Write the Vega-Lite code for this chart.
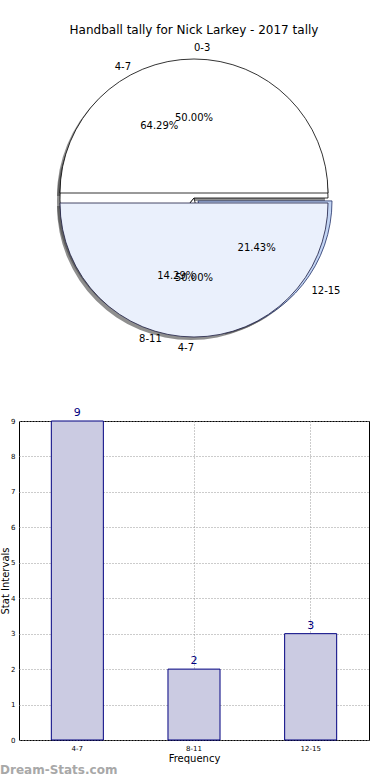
{
  "$schema": "https://vega.github.io/schema/vega-lite/v6.json",
  "padding": {"left": 0, "top": 24, "right": 0, "bottom": 0},
  "config": {"font": "DejaVu Sans", "view": {"stroke": null}},
  "title": {"text": "Dream-Stats.com", "orient": "bottom", "anchor": "start", "fontSize": 12, "fontWeight": "bold", "color": "#a8a8a8", "offset": 1},
  "datasets": {
    "pie": [
      {"pie": "A", "label": "0-3", "value": 50, "pct": "50.00%", "order": 1},
      {"pie": "A", "label": "4-7", "value": 50, "pct": "50.00%", "order": 2},
      {"pie": "B", "label": "4-7", "value": 64.29, "pct": "64.29%", "order": 1},
      {"pie": "B", "label": "8-11", "value": 14.29, "pct": "14.29%", "order": 2},
      {"pie": "B", "label": "12-15", "value": 21.43, "pct": "21.43%", "order": 3}
    ],
    "bars": [
      {"interval": "4-7", "count": 9},
      {"interval": "8-11", "count": 2},
      {"interval": "12-15", "count": 3}
    ]
  },
  "spacing": 53,
  "vconcat": [
    {
      "width": 350,
      "height": 304,
      "title": {"text": "Handball tally for Nick Larkey - 2017 tally", "fontSize": 12, "fontWeight": "normal", "color": "black", "offset": 6},
      "data": {"name": "pie"},
      "transform": [
        {"stack": "value", "groupby": ["pie"], "sort": [{"field": "order", "order": "ascending"}], "as": ["v0", "v1"]},
        {"calculate": "(datum.v0 + datum.v1) / 2", "as": "mid"}
      ],
      "encoding": {
        "theta": {"field": "v0", "type": "quantitative", "stack": null, "scale": {"domain": [0, 100], "range": [1.5708, -4.7124]}},
        "theta2": {"field": "v1"}
      },
      "layer": [
        {"transform": [{"filter": "datum.pie == 'B' && datum.label != '12-15'"}], "mark": {"type": "arc", "radius": 134, "fill": "#444444", "opacity": 0.6, "xOffset": -3, "yOffset": 3}},
        {"transform": [{"filter": "datum.pie == 'B' && datum.label == '12-15'"}], "mark": {"type": "arc", "radius": 134, "fill": "#444444", "opacity": 0.6, "xOffset": 1, "yOffset": 6}},
        {"transform": [{"filter": "datum.pie == 'A' && datum.label == '0-3'"}], "mark": {"type": "arc", "radius": 134, "fill": "#444444", "opacity": 0.6, "xOffset": -3, "yOffset": -2}},
        {"transform": [{"filter": "datum.pie == 'A' && datum.label == '4-7'"}], "mark": {"type": "arc", "radius": 134, "fill": "#444444", "opacity": 0.6, "xOffset": -3, "yOffset": 8}},
        {"transform": [{"filter": "datum.pie == 'B' && datum.label != '12-15'"}], "mark": {"type": "arc", "radius": 134, "fill": "white", "stroke": "black", "strokeWidth": 0.8}},
        {"transform": [{"filter": "datum.pie == 'B' && datum.label == '12-15'"}], "mark": {"type": "arc", "radius": 134, "fill": "#c3d5f4", "stroke": "#1f2f66", "strokeWidth": 0.8, "xOffset": 4, "yOffset": 3}},
        {"transform": [{"filter": "datum.pie == 'A' && datum.label == '0-3'"}], "mark": {"type": "arc", "radius": 134, "fill": "white", "stroke": "black", "strokeWidth": 0.8, "yOffset": -5}},
        {"transform": [{"filter": "datum.pie == 'A' && datum.label == '4-7'"}], "mark": {"type": "arc", "radius": 134, "fill": "#eaf0fc", "stroke": "#1a1a40", "strokeWidth": 0.8, "yOffset": 5}},
        {"transform": [{"filter": "datum.pie == 'A' && datum.label == '0-3'"}], "mark": {"type": "text", "radius": 145, "align": "left", "baseline": "middle", "fontSize": 10, "yOffset": -5}, "encoding": {"theta": {"field": "mid", "type": "quantitative", "stack": null}, "theta2": null, "text": {"field": "label"}}},
        {"transform": [{"filter": "datum.pie == 'A' && datum.label == '4-7'"}], "mark": {"type": "text", "radius": 145, "align": "right", "baseline": "middle", "fontSize": 10, "yOffset": 5}, "encoding": {"theta": {"field": "mid", "type": "quantitative", "stack": null}, "theta2": null, "text": {"field": "label"}}},
        {"transform": [{"filter": "datum.pie == 'B' && datum.label != '12-15'"}], "mark": {"type": "text", "radius": 145, "align": "right", "baseline": "middle", "fontSize": 10}, "encoding": {"theta": {"field": "mid", "type": "quantitative", "stack": null}, "theta2": null, "text": {"field": "label"}}},
        {"transform": [{"filter": "datum.pie == 'B' && datum.label == '12-15'"}], "mark": {"type": "text", "radius": 145, "align": "left", "baseline": "middle", "fontSize": 10, "xOffset": 4, "yOffset": 3}, "encoding": {"theta": {"field": "mid", "type": "quantitative", "stack": null}, "theta2": null, "text": {"field": "label"}}},
        {"transform": [{"filter": "datum.pie == 'A'"}], "mark": {"type": "text", "radius": 80, "align": "center", "baseline": "middle", "fontSize": 10}, "encoding": {"theta": {"field": "mid", "type": "quantitative", "stack": null}, "theta2": null, "text": {"field": "pct"}}},
        {"transform": [{"filter": "datum.pie == 'B'"}], "mark": {"type": "text", "radius": 80, "align": "center", "baseline": "middle", "fontSize": 10}, "encoding": {"theta": {"field": "mid", "type": "quantitative", "stack": null}, "theta2": null, "text": {"field": "pct"}}}
      ]
    },
    {
      "width": 350,
      "height": 319,
      "view": {"stroke": "black", "strokeWidth": 1},
      "data": {"name": "bars"},
      "encoding": {
        "x": {"field": "interval", "type": "nominal", "sort": ["4-7", "8-11", "12-15"], "scale": {"paddingInner": 0, "paddingOuter": 0},
          "axis": {"title": "Frequency", "titleFontSize": 10, "titleFontWeight": "normal", "titlePadding": 2, "labelFontSize": 7, "labelAngle": 0, "labelColor": "black", "labelPadding": 4, "ticks": false, "domain": false, "grid": true, "gridDash": [1, 2], "gridColor": "#999999", "bandPosition": 0.5}},
        "y": {"field": "count", "type": "quantitative", "scale": {"domain": [0, 9], "nice": false},
          "axis": {"title": "Stat Intervals", "titleFontSize": 10, "titleFontWeight": "normal", "titlePadding": 0, "labelFontSize": 7, "labelColor": "black", "labelPadding": 4, "ticks": false, "domain": false, "values": [0, 1, 2, 3, 4, 5, 6, 7, 8, 9], "grid": true, "gridDash": [1, 2], "gridColor": "#999999"}}
      },
      "layer": [
        {"mark": {"type": "bar", "width": {"band": 0.446}, "fill": "#cbcbe2", "stroke": "#000080", "strokeWidth": 1}},
        {"mark": {"type": "text", "baseline": "bottom", "dy": -3, "color": "#000080", "fontSize": 11}, "encoding": {"text": {"field": "count", "type": "quantitative"}}}
      ]
    }
  ]
}
